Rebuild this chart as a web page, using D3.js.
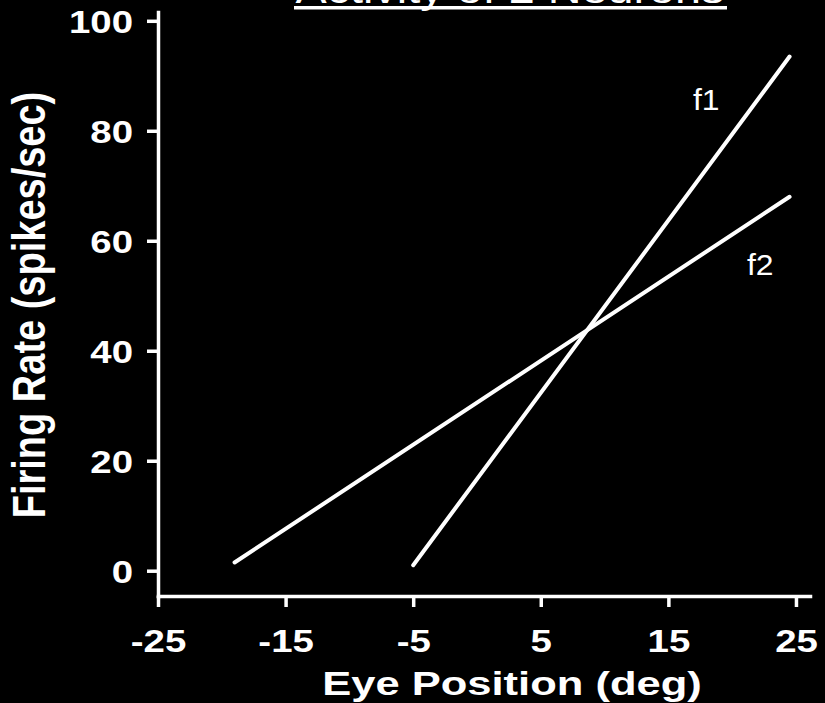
<!DOCTYPE html>
<html>
<head>
<meta charset="utf-8">
<script src="https://cdn.jsdelivr.net/npm/d3@7"></script>
<style>
  html, body { margin: 0; padding: 0; background: #000; }
  svg { display: block; }
  text { font-family: "Liberation Sans", Arial, Helvetica, sans-serif; fill: #fff; }
</style>
</head>
<body>
<svg id="chart" width="825" height="703"></svg>
<script>
// Eye-position tuning of two neurons: firing rate rises linearly with eye position
const xTicks = [-25, -15, -5, 5, 15, 25];
const yTicks = [0, 20, 40, 60, 80, 100];
const seriesNames = ["f1", "f2"];
const f1Points = [[-5, 1], [24.5, 93.5]];
const f2Points = [[-19, 1.5], [24.5, 68]];

const svg = d3.select("#chart");
const W = 825, H = 703;
svg.append("rect").attr("width", W).attr("height", H).attr("fill", "#000");

// Glyphs are drawn slightly widened
const SX = 1.2;

const x = d3.scaleLinear().domain([-25, 26.1]).range([158, 810]);
const y = d3.scaleLinear().domain([-4.6, 101.6]).range([596, 12]);

// Title (underlined)
const title = svg.append("g");
title.append("text")
  .attr("transform", `translate(510,3) scale(${SX},1)`)
  .attr("text-anchor", "middle")
  .style("font-size", "39px")
  .text("Activity of 2 Neurons");
title.append("rect")
  .attr("x", 294).attr("y", 6).attr("width", 433).attr("height", 3.5)
  .attr("fill", "#fff");

// Plain hyphen-minus for negative tick values
const fmt = d => String(d);

// X axis
const xAxis = svg.append("g")
  .attr("transform", `translate(0,${y.range()[0]})`)
  .call(d3.axisBottom(x).tickValues(xTicks).tickSize(11).tickSizeOuter(0).tickFormat(fmt));
// Y axis
const yAxis = svg.append("g")
  .attr("transform", `translate(${x.range()[0]},0)`)
  .call(d3.axisLeft(y).tickValues(yTicks).tickSize(11).tickSizeOuter(0).tickFormat(fmt));

[xAxis, yAxis].forEach(g => {
  g.select(".domain").attr("stroke", "#fff").attr("stroke-width", 3.5).attr("stroke-linecap", "square");
  g.selectAll(".tick line").attr("stroke", "#fff").attr("stroke-width", 3.5);
  g.selectAll(".tick text")
    .attr("fill", "#fff")
    .style("font-size", "32px")
    .style("font-weight", "bold");
});

xAxis.selectAll(".tick text")
  .attr("y", 0).attr("dy", 0)
  .attr("transform", `translate(0,56) scale(${SX},1)`);
yAxis.selectAll(".tick text")
  .attr("x", 0).attr("dy", "0.36em")
  .attr("transform", `translate(-25,0) scale(${SX},1)`);

// Axis titles
svg.append("text")
  .attr("transform", `translate(512,695) scale(1.28,1)`)
  .attr("text-anchor", "middle")
  .style("font-size", "34px").style("font-weight", "bold")
  .text("Eye Position (deg)");
svg.append("text")
  .attr("transform", `translate(45,305) scale(${SX},1) rotate(-90)`)
  .attr("text-anchor", "middle")
  .style("font-size", "38px").style("font-weight", "bold")
  .text("Firing Rate (spikes/sec)");

// Tuning lines
const line = d3.line().x(d => x(d[0])).y(d => y(d[1]));
[f1Points, f2Points].forEach(pts => {
  svg.append("path")
    .datum(pts)
    .attr("d", line)
    .attr("fill", "none")
    .attr("stroke", "#fff")
    .attr("stroke-width", 4)
    .attr("stroke-linecap", "round");
});

// Line labels
const labelPos = [[693, 110], [747, 275]];
seriesNames.forEach((name, i) => {
  svg.append("text")
    .attr("transform", `translate(${labelPos[i][0]},${labelPos[i][1]}) scale(1.1,1)`)
    .style("font-size", "29px")
    .text(name);
});
</script>
</body>
</html>
